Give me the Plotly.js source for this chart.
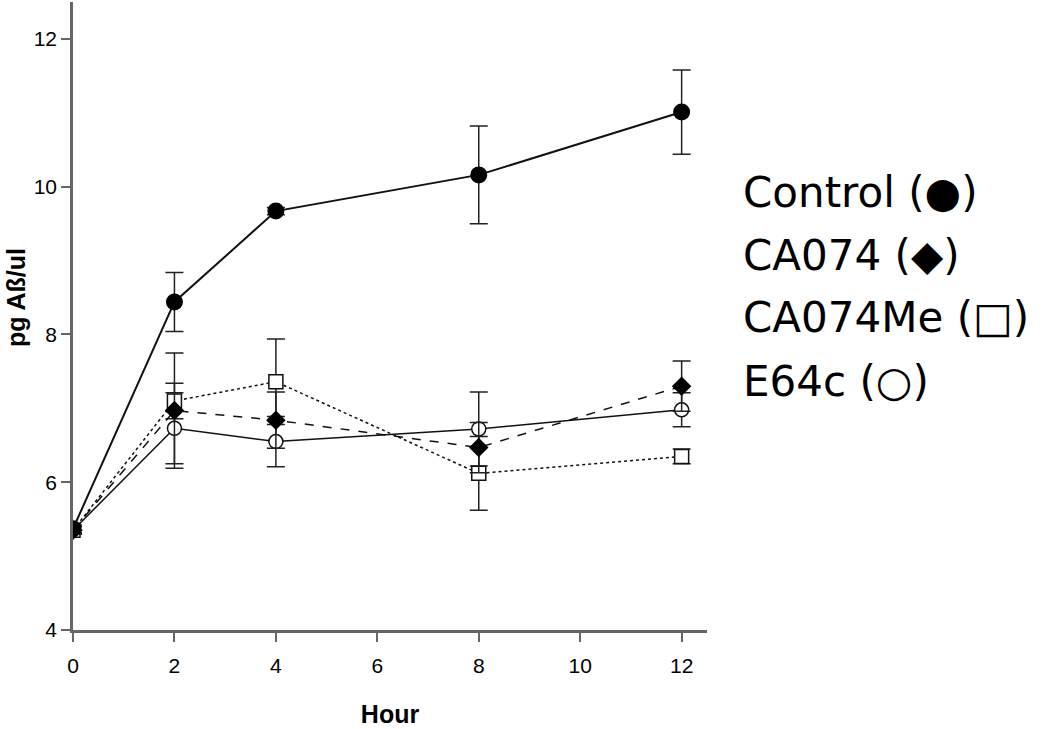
<!DOCTYPE html>
<html>
<head>
<meta charset="utf-8">
<script src="https://cdn.plot.ly/plotly-3.0.1.min.js"></script>
<style>
  html, body { margin: 0; padding: 0; background: #fff; }
  #chart { width: 1050px; height: 729px; }
</style>
</head>
<body>
<div id="chart"></div>
<script>
// Hours sampled
const hours = [0, 2, 4, 8, 12];

// Means (pg Abeta/ul)
const control = [5.37, 8.44, 9.67, 10.16, 11.01];
const ca074 = [5.35, 6.97, 6.84, 6.47, 7.30];
const ca074me = [5.35, 7.10, 7.36, 6.12, 6.35];
const e64c = [5.35, 6.73, 6.55, 6.72, 6.98];

// Error bar half-widths
const controlErr = [0.05, 0.40, 0.05, 0.66, 0.57];
const ca074Err = [0.05, 0.78, 0.38, 0.34, 0.34];
const ca074meErr = [0.05, 0.24, 0.58, 0.50, 0.10];
const e64cErr = [0.05, 0.48, 0.34, 0.50, 0.23];

const seriesNames = ['Control (\u25CF)', 'CA074 (\u25C6)', 'CA074Me (\u25A1)', 'E64c (\u25CB)'];
const yTicks = [4, 6, 8, 10, 12];
const xTicks = [0, 2, 4, 6, 8, 10, 12];

function errBar(arr) {
  return { type: 'data', array: arr, visible: true, color: '#222', thickness: 1.5, width: 9 };
}

const traces = [
  {
    x: hours, y: e64c, error_y: errBar(e64cErr),
    type: 'scatter', mode: 'lines+markers', name: seriesNames[3],
    line: { color: '#111', width: 1.5, dash: 'solid' },
    marker: { symbol: 'circle', size: 14, color: '#fff', line: { color: '#111', width: 1.5 } }
  },
  {
    x: hours, y: ca074me, error_y: errBar(ca074meErr),
    type: 'scatter', mode: 'lines+markers', name: seriesNames[2],
    line: { color: '#111', width: 1.5, dash: 'dot' },
    marker: { symbol: 'square', size: 14, color: '#fff', line: { color: '#111', width: 1.5 } }
  },
  {
    x: hours, y: ca074, error_y: errBar(ca074Err),
    type: 'scatter', mode: 'lines+markers', name: seriesNames[1],
    line: { color: '#111', width: 1.5, dash: 'dash' },
    marker: { symbol: 'diamond', size: 15, color: '#000' }
  },
  {
    x: hours, y: control, error_y: errBar(controlErr),
    type: 'scatter', mode: 'lines+markers', name: seriesNames[0],
    line: { color: '#111', width: 2 },
    marker: { symbol: 'circle', size: 17, color: '#000' }
  }
];

// Text legend on the right
const legendY = [0.697, 0.597, 0.497, 0.396];
const annotations = seriesNames.map((name, i) => ({
  text: name, xref: 'paper', yref: 'paper', x: 1.053, y: legendY[i],
  xanchor: 'left', yanchor: 'middle', showarrow: false,
  font: { family: 'DejaVu Sans, Liberation Sans, Arial, sans-serif', size: 42, color: '#000' }
}));

annotations.push({
  text: '<b>pg A\u00DF/ul</b>', xref: 'paper', yref: 'paper', x: -0.09, y: 0.53,
  xanchor: 'center', yanchor: 'middle', textangle: -90, showarrow: false,
  font: { family: 'Liberation Sans, Arial, sans-serif', size: 25, color: '#000' }
});

const layout = {
  width: 1050, height: 729,
  margin: { l: 73, r: 343, t: 2, b: 99 },
  paper_bgcolor: '#fff', plot_bgcolor: '#fff',
  showlegend: false,
  font: { family: 'Liberation Sans, Arial, sans-serif', color: '#000' },
  xaxis: {
    range: [0, 12.5], tickvals: xTicks, ticks: 'outside', ticklen: 9, tickwidth: 2, tickcolor: '#666',
    showline: true, linecolor: '#666', linewidth: 2.5, showgrid: false, zeroline: false,
    ticklabelstandoff: 6,
    tickfont: { family: 'Liberation Sans Narrow, Liberation Sans, Arial', size: 21 },
    title: { text: '<b>Hour</b>', font: { family: 'Liberation Sans Narrow, Liberation Sans, Arial', size: 25 }, standoff: 30 }
  },
  yaxis: {
    range: [4, 12.5], tickvals: yTicks, ticks: 'outside', ticklen: 9, tickwidth: 2, tickcolor: '#666',
    showline: true, linecolor: '#666', linewidth: 2.5, showgrid: false, zeroline: false,
    tickfont: { family: 'Liberation Sans, Arial', size: 21 }
  },
  annotations: annotations
};

Plotly.newPlot('chart', traces, layout, { displayModeBar: false });
</script>
</body>
</html>
